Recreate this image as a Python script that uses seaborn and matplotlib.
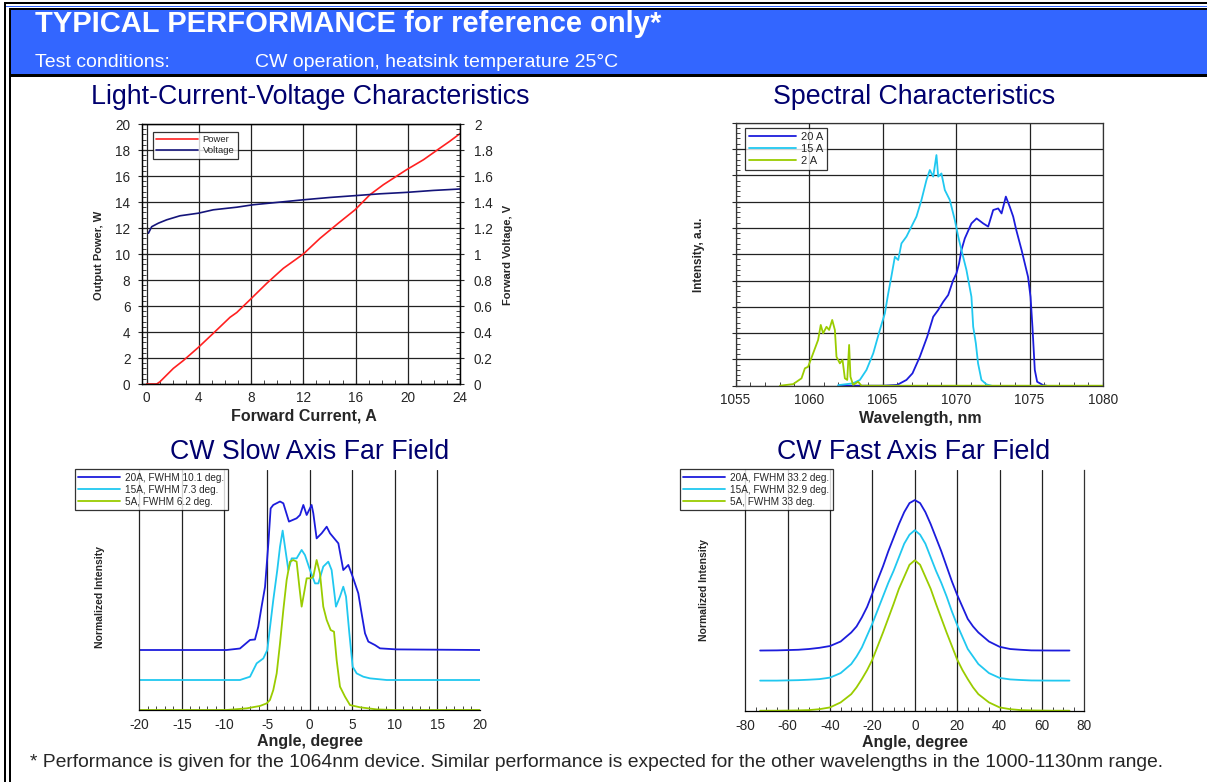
import numpy as np
import pandas as pd
import seaborn as sns
import matplotlib.pyplot as plt
from matplotlib.patches import Rectangle
from matplotlib.ticker import MultipleLocator, FuncFormatter

# ---- data ----
# LIV
liv_current = [0.0, 0.77, 1.02, 1.4, 2.04, 2.8, 3.96, 5.1, 6.38, 6.9, 7.9, 9.2, 10.47, 12.0,
               13.27, 14.68, 15.96, 17.1, 18.13, 19.9, 21.2, 22.47, 23.2, 24.0]
liv_power = [0.0, 0.0, 0.18, 0.56, 1.2, 1.8, 2.82, 3.9, 5.13, 5.5, 6.47, 7.75, 8.9, 10.0,
             11.2, 12.37, 13.4, 14.56, 15.33, 16.48, 17.25, 18.15, 18.66, 19.26]
volt_current = [0.13, 0.38, 0.89, 1.53, 2.55, 3.96, 5.1, 6.9, 8.17, 10.2, 12.0, 14.04,
                15.83, 17.87, 19.9, 21.96, 24.0]
volt_value = [1.16, 1.21, 1.237, 1.263, 1.294, 1.314, 1.34, 1.36, 1.379, 1.399, 1.417, 1.435,
              1.448, 1.463, 1.474, 1.489, 1.5]

# spectra (a.u., grid units 0-10)
wl_20a = [1062.0, 1065.0, 1066.0, 1066.63, 1067.04, 1067.54, 1068.04, 1068.45, 1068.79, 1069.13,
          1069.47, 1069.8, 1070.03, 1070.21, 1070.37, 1070.6, 1071.05, 1071.4, 1071.85, 1072.19,
          1072.53, 1072.87, 1073.1, 1073.39, 1073.66, 1073.89, 1074.1, 1074.46, 1074.68, 1074.9,
          1075.07, 1075.2, 1075.36, 1075.52, 1075.93, 1076.16]
int_20a = [0.0, 0.0, 0.03, 0.22, 0.47, 1.1, 1.86, 2.62, 2.88, 3.19,
           3.45, 4.0, 4.27, 4.65, 5.16, 5.6, 6.17, 6.36, 6.17, 6.05,
           6.68, 6.74, 6.55, 7.19, 6.8, 6.43, 5.92, 5.16, 4.65, 4.14,
           3.38, 2.24, 0.6, 0.15, 0.02, 0.0]
wl_15a = [1061.98, 1063.0, 1063.46, 1063.91, 1064.37, 1064.82, 1065.16, 1065.39, 1065.6, 1065.84,
          1066.07, 1066.29, 1066.63, 1066.97, 1067.31, 1067.65, 1067.99, 1068.22, 1068.45, 1068.67,
          1068.79, 1069.01, 1069.24, 1069.58, 1069.92, 1070.15, 1070.37, 1070.71, 1071.05, 1071.17,
          1071.35, 1071.5, 1071.73, 1072.07, 1072.41]
int_15a = [0.02, 0.09, 0.22, 0.6, 1.23, 2.12, 2.75, 3.51, 4.14, 4.9,
           4.78, 5.41, 5.67, 6.05, 6.43, 7.06, 7.82, 8.2, 7.95, 8.77,
           7.95, 8.07, 7.44, 7.06, 6.3, 5.67, 5.16, 4.4, 3.38, 2.24,
           1.61, 0.85, 0.22, 0.05, 0.0]
wl_2a = [1058.02, 1058.92, 1059.49, 1059.72, 1059.94, 1060.28, 1060.62, 1060.8, 1060.96, 1061.19,
         1061.37, 1061.58, 1061.76, 1061.87, 1062.1, 1062.28, 1062.44, 1062.6, 1062.73, 1062.82,
         1063.0, 1063.34, 1063.57, 1080.0]
int_2a = [0.0, 0.06, 0.28, 0.66, 0.72, 1.23, 1.74, 2.31, 1.99, 2.24,
          2.12, 2.5, 2.12, 1.1, 0.85, 0.98, 0.28, 0.22, 1.55, 0.34,
          0.03, 0.15, 0.0, 0.0]

# slow axis far field (graph units, curves already stacked)
slow_ang_20a = [-20, -9.75, -8.18, -7.0, -6.42, -6.03, -5.64, -5.24, -4.85, -4.58, -4.27, -3.48,
                -3.09, -2.43, -1.53, -1.13, -0.74, -0.35, 0.23, 0.43, 0.82, 1.41, 2.0, 2.39,
                3.37, 3.95, 4.54, 5.05, 5.71, 6.1, 6.5, 6.89, 7.67, 8.26, 10.2, 20]
slow_val_20a = [0.4, 0.4, 0.41, 0.467, 0.47, 0.556, 0.69, 0.82, 1.11, 1.344, 1.367, 1.39,
                1.378, 1.256, 1.278, 1.3, 1.367, 1.3, 1.367, 1.311, 1.144, 1.178, 1.222, 1.178,
                1.111, 0.933, 0.967, 0.889, 0.778, 0.644, 0.511, 0.456, 0.433, 0.411, 0.404, 0.4]
slow_ang_15a = [-20, -8.18, -7.0, -6.22, -5.44, -4.97, -4.74, -4.27, -3.8, -3.48, -3.17, -2.9,
                -2.5, -2.11, -1.53, -0.94, -0.55, 0.04, 0.63, 1.02, 1.6, 2.19, 2.58, 3.09,
                3.56, 3.95, 4.27, 4.66, 5.05, 5.52, 6.3, 7.08, 9.04, 20]
slow_val_15a = [0.2, 0.2, 0.222, 0.311, 0.344, 0.4, 0.511, 0.733, 0.933, 1.089, 1.196, 1.089,
                0.933, 1.011, 1.011, 1.067, 1.033, 0.933, 0.844, 0.844, 0.956, 0.989, 0.933, 0.689,
                0.756, 0.822, 0.756, 0.511, 0.289, 0.244, 0.222, 0.211, 0.2, 0.2]
slow_ang_5a = [-20, -9.75, -7.4, -5.83, -5.05, -4.66, -4.27, -3.87, -3.48, -3.09, -2.7, -2.31,
               -1.92, -1.53, -1.21, -0.94, -0.66, -0.35, 0.12, 0.43, 0.82, 1.21, 1.6, 2.0,
               2.47, 2.86, 3.17, 3.56, 4.15, 4.74, 5.91, 7.87, 9.82, 20]
slow_val_5a = [0.0, 0.0, 0.011, 0.027, 0.044, 0.067, 0.133, 0.244, 0.444, 0.667, 0.867, 0.989,
               1.0, 0.989, 0.822, 0.689, 0.778, 0.878, 0.878, 0.889, 1.0, 0.911, 0.689, 0.6,
               0.533, 0.522, 0.333, 0.156, 0.089, 0.033, 0.018, 0.004, 0.0, 0.0]

# fast axis far field (graph units, curves already stacked)
fast_angle = [-73, -65, -55, -50, -45, -40, -35, -30, -27.5, -25, -22.5, -20, -17.5, -15, -12.5,
              -10, -7.5, -5, -2.5, 0, 2.5, 5, 7.5, 10, 12.5, 15, 17.5, 20, 22.5, 25, 27.5, 30,
              35, 40, 45, 50, 55, 65, 73]
fast_20a = [0.4, 0.401, 0.405, 0.41, 0.418, 0.43, 0.46, 0.52, 0.56, 0.62, 0.69, 0.78, 0.87, 0.96,
            1.06, 1.15, 1.24, 1.32, 1.38, 1.4, 1.38, 1.32, 1.24, 1.15, 1.06, 0.96, 0.86, 0.77,
            0.69, 0.61, 0.56, 0.52, 0.46, 0.425, 0.41, 0.405, 0.401, 0.4, 0.4]
fast_15a = [0.2, 0.2, 0.203, 0.206, 0.21, 0.22, 0.25, 0.31, 0.36, 0.42, 0.5, 0.58, 0.67, 0.76,
            0.85, 0.93, 1.02, 1.11, 1.17, 1.2, 1.17, 1.11, 1.02, 0.93, 0.85, 0.76, 0.66, 0.57,
            0.49, 0.41, 0.36, 0.31, 0.25, 0.218, 0.208, 0.204, 0.201, 0.2, 0.2]
fast_5a = [0.0, 0.0, 0.002, 0.004, 0.01, 0.022, 0.055, 0.11, 0.155, 0.21, 0.27, 0.34, 0.43, 0.52,
           0.615, 0.71, 0.81, 0.89, 0.97, 1.0, 0.97, 0.89, 0.81, 0.71, 0.615, 0.52, 0.43, 0.34,
           0.27, 0.21, 0.155, 0.11, 0.055, 0.022, 0.01, 0.004, 0.002, 0.0, 0.0]

slow_labels = ["20A, FWHM 10.1 deg.", "15A, FWHM 7.3 deg.", "5A, FWHM 6.2 deg."]
fast_labels = ["20A, FWHM 33.2 deg.", "15A, FWHM 32.9 deg.", "5A, FWHM 33 deg."]
spec_labels = ["20 A", "15 A", "2 A"]

c_blue = "#1c1cdc"
c_cyan = "#20c8f0"
c_green = "#9acc00"
c_red = "#ff2020"
c_navy = "#14147a"
title_col = "#00006e"
band_col = "#3366ff"

sns.set_style("ticks")
plt.rcParams['font.family'] = ['Liberation Sans', 'DejaVu Sans']
plt.rcParams['axes.linewidth'] = 0.9
plt.rcParams['axes.unicode_minus'] = False

W, H = 1207, 782
fig = plt.figure(figsize=(W / 100, H / 100), dpi=100)


def px(x, y):
    return x / W, 1 - y / H


def rect(x0, y0, x1, y1, col):
    fig.add_artist(Rectangle(px(x0, y1), (x1 - x0) / W, (y1 - y0) / H, color=col,
                             transform=fig.transFigure, lw=0, zorder=0))


def axes_px(l, t, r, b):
    return fig.add_axes([l / W, 1 - b / H, (r - l) / W, (b - t) / H])


# frame + header band
rect(4, 2, W, 4, "black")
rect(6, 5.5, W, 6.5, band_col)
rect(9, 8, W, 10, "black")
rect(11, 10, W, 74, band_col)
rect(9, 74, W, 77, "black")
rect(4, 2, 6, H, "black")
rect(9, 8, 11, H, "black")

fig.text(*px(35, 32), "TYPICAL PERFORMANCE for reference only*", color="white",
         fontsize=21, fontweight="bold", va="baseline")
fig.text(*px(35, 67), "Test conditions:", color="white", fontsize=14, va="baseline")
fig.text(*px(255, 67), "CW operation, heatsink temperature 25\u00b0C", color="white",
         fontsize=14, va="baseline")
fig.text(*px(30, 767), "* Performance is given for the 1064nm device. Similar performance is "
         "expected for the other wavelengths in the 1000-1130nm range.", fontsize=13.9,
         va="baseline")

for x, y, s in [(310, 104, "Light-Current-Voltage Characteristics"),
                (914, 104, "Spectral Characteristics"),
                (310, 459, "CW Slow Axis Far Field"),
                (914, 459, "CW Fast Axis Far Field")]:
    fig.text(*px(x, y), s, color=title_col, fontsize=19.3, ha="center", va="baseline")

tick_fs = 9.8
grid_kw = dict(color="#222222", lw=0.9)


def leg(ax, handles, labels, x, y, fs, hl):
    lg = ax.legend(handles, labels, loc="upper left", bbox_to_anchor=(x, y), borderaxespad=0,
                   fontsize=fs, frameon=True, fancybox=False, handlelength=hl,
                   labelspacing=0.2, borderpad=0.35, handletextpad=0.5)
    lg.get_frame().set_edgecolor("black")
    lg.get_frame().set_linewidth(0.9)
    lg.set_zorder(10)
    return lg


# ---- LIV ----
ax = axes_px(141.5, 124, 460, 384)
sns.lineplot(x=liv_current, y=liv_power, ax=ax, color=c_red, lw=1.2, estimator=None)
ax2 = ax.twinx()
sns.lineplot(x=volt_current, y=volt_value, ax=ax2, color=c_navy, lw=1.2, estimator=None)
ax.set_xlim(-0.4, 24)
ax.set_ylim(0, 20)
ax2.set_ylim(0, 2)
ax.xaxis.set_major_locator(MultipleLocator(4))
ax.xaxis.set_minor_locator(MultipleLocator(1))
ax.yaxis.set_major_locator(MultipleLocator(2))
ax.yaxis.set_minor_locator(MultipleLocator(0.4))
ax2.yaxis.set_major_locator(MultipleLocator(0.2))
ax2.yaxis.set_minor_locator(MultipleLocator(0.04))
ax2.yaxis.set_major_formatter(FuncFormatter(lambda v, p: "%g" % round(v, 2)))
ax.grid(True, which="major", **grid_kw)
ax.set_axisbelow(True)
for a in (ax, ax2):
    a.tick_params(which="major", direction="inout", length=6, width=0.8, labelsize=tick_fs, pad=5)
    a.tick_params(which="minor", direction="in", length=3, width=0.6)
ax2.tick_params(which="major", pad=7)
ax.tick_params(axis="x", which="major", direction="in", length=3, pad=5)
ax.set_xlabel("Forward Current, A", fontsize=11.5, fontweight="bold")
ax.set_ylabel("Output Power, W", fontsize=8, fontweight="bold")
ax2.set_ylabel("Forward Voltage, V", fontsize=8, fontweight="bold")
ax.xaxis.set_label_coords(0.509, -0.094)
ax.yaxis.set_label_coords(-0.118, 0.493)
ax2.yaxis.set_label_coords(1.134, 0.497)
for a in (ax, ax2):
    for s in a.spines.values():
        s.set_color("black")
leg(ax2, [ax.lines[0], ax2.lines[0]], ["Power", "Voltage"], 0.036, 0.969, 6.8, 4.4)

# ---- spectrum ----
ax = axes_px(735.5, 122.7, 1103, 385.7)
for wl, it, c in [(wl_20a, int_20a, c_blue), (wl_15a, int_15a, c_cyan), (wl_2a, int_2a, c_green)]:
    sns.lineplot(x=wl, y=it, ax=ax, color=c, lw=1.3, estimator=None)
ax.set_xlim(1055, 1080)
ax.set_ylim(0, 10)
ax.xaxis.set_major_locator(MultipleLocator(5))
ax.xaxis.set_minor_locator(MultipleLocator(1))
ax.yaxis.set_major_locator(MultipleLocator(1))
ax.yaxis.set_minor_locator(MultipleLocator(0.2))
ax.set_yticklabels([])
ax.grid(True, which="major", **grid_kw)
ax.set_axisbelow(True)
ax.tick_params(which="major", direction="inout", length=6, width=0.8, labelsize=tick_fs)
ax.tick_params(which="minor", direction="in", length=3, width=0.6)
ax.tick_params(axis="x", which="major", direction="in", length=3, pad=5)
ax.set_xlabel("Wavelength, nm", fontsize=11.5, fontweight="bold")
ax.set_ylabel("Intensity, a.u.", fontsize=8.5, fontweight="bold")
ax.xaxis.set_label_coords(0.502, -0.097)
ax.yaxis.set_label_coords(-0.083, 0.498)
for s in ax.spines.values():
    s.set_color("#333333")
leg(ax, ax.lines[:3], spec_labels, 0.026, 0.98, 8, 4.2)


# ---- far fields ----
def far_field(box, xs, ys, labels, xlim, major, minor, lx, right_line):
    ax = axes_px(*box)
    for x, y, c in zip(xs, ys, [c_blue, c_cyan, c_green]):
        sns.lineplot(x=x, y=y, ax=ax, color=c, lw=1.3, estimator=None)
    ax.set_xlim(*xlim)
    ax.set_ylim(0, 1.6)
    ax.xaxis.set_major_locator(MultipleLocator(major))
    ax.xaxis.set_minor_locator(MultipleLocator(minor))
    ax.set_yticks([])
    ax.grid(True, axis="x", which="major", **grid_kw)
    ax.set_axisbelow(True)
    ax.spines["top"].set_visible(False)
    ax.spines["right"].set_visible(right_line)
    ax.spines["right"].set_color("#333333")
    ax.spines["left"].set_color("#222222")
    ax.spines["bottom"].set_color("black")
    ax.tick_params(axis="x", which="major", direction="in", length=0, labelsize=tick_fs, pad=6)
    ax.tick_params(axis="x", which="minor", direction="in", length=3, width=0.6)
    locs = ax.xaxis.get_majorticklocs()
    for loc, t in zip(locs, ax.xaxis.get_major_ticks(len(locs))):
        if loc >= xlim[1] or loc <= xlim[0]:
            t.gridline.set_visible(False)
    ax.set_xlabel("Angle, degree", fontsize=11.5, fontweight="bold")
    ax.set_ylabel("Normalized Intensity", fontsize=7.5, fontweight="bold")
    ax.xaxis.set_label_coords(0.5, -0.1)
    leg(ax, ax.lines[:3], labels, lx, 1.004, 7.2, 4.2)
    return ax


ax = far_field((139.3, 470, 480, 710), [slow_ang_20a, slow_ang_15a, slow_ang_5a],
               [slow_val_20a, slow_val_15a, slow_val_5a], slow_labels, (-20, 20), 5, 1, -0.189,
               False)
ax.yaxis.set_label_coords(-0.1007, 0.472)
ax = far_field((745.3, 470, 1084.3, 710.7), [fast_angle] * 3, [fast_20a, fast_15a, fast_5a],
               fast_labels, (-80, 80), 20, 5, -0.193, True)
ax.yaxis.set_label_coords(-0.107, 0.5)

fig.savefig("out.png", dpi=100)
